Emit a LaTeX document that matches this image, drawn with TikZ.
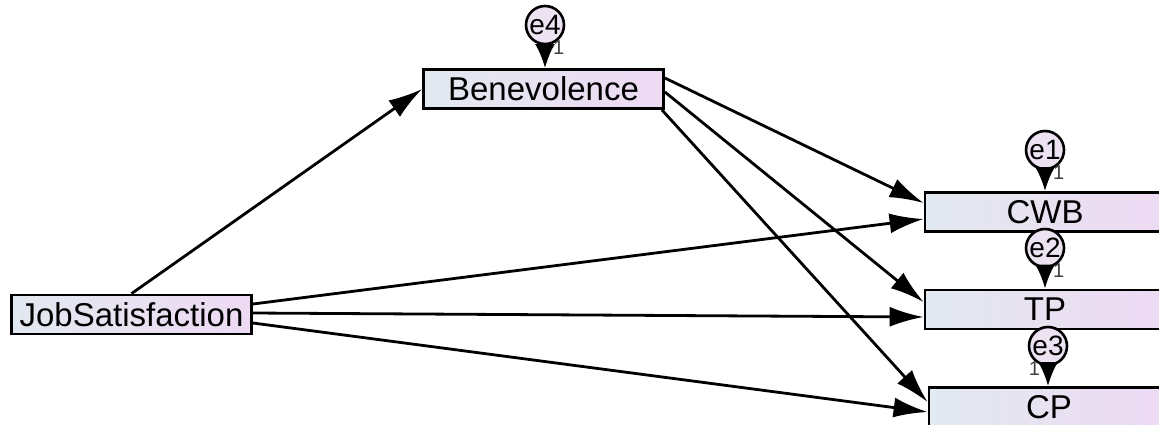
\documentclass[tikz,border=0pt]{standalone}
\usepackage{fontspec}
\setmainfont{Liberation Sans}
\usetikzlibrary{arrows.meta,positioning,calc}
\definecolor{boxleft}{RGB}{226,233,240}
\definecolor{boxright}{RGB}{238,218,243}
\definecolor{errfill}{RGB}{236,226,242}
\tikzset{
    varbox/.style={draw,line width=1.4pt,left color=boxleft,right color=boxright,
        minimum width=120pt,minimum height=19.5pt,inner sep=0pt,
        font=\fontsize{16.5}{19}\selectfont},
    errcirc/.style={draw,circle,line width=1.3pt,fill=errfill,minimum size=19pt,
        inner sep=0pt,font=\fontsize{14}{16}\selectfont},
    regline/.style={line width=1.4pt,-{Latex[length=17pt,width=10pt]}},
    errline/.style={line width=1.4pt,-{Latex[length=12pt,width=10pt]}},
    wt/.style={font=\fontsize{10}{11}\selectfont,text=black!75}
}

\begin{document}
\begin{tikzpicture}[x=0.5pt,y=-0.5pt]

    \useasboundingbox (0,0) rectangle (1159,424);
    \clip (0,0) rectangle (1159,424);

    % Observed variables.
    \node[varbox] (ben) at (543.5,89) {Benevolence};
    \node[varbox] (job) at (131.5,314.5) {JobSatisfaction};
    \node[varbox] (cwb) at (1045,212) {CWB};
    \node[varbox] (tp) at (1045,309.5) {TP};
    \node[varbox] (cp) at (1049,407) {CP};

    % Error terms.
    \node[errcirc] (e4) at (545,25) {e4};
    \node[errcirc] (e1) at (1045,150) {e1};
    \node[errcirc] (e2) at (1045,248) {e2};
    \node[errcirc] (e3) at (1048,346) {e3};

    \foreach \e/\v in {e4/ben,e1/cwb,e2/tp}
        \draw[errline] (\e.south) -- (\e |- \v.north) node[wt,pos=0.1,right=0pt]{1};
    \draw[errline] (e3.south) -- (e3 |- cp.north) node[wt,pos=0.1,left=0pt]{1};

    % Paths from Benevolence.
    \draw[regline] (job.north) -- (ben.west);
    \draw[regline] ([yshift=5.5pt]ben.east) -- ([yshift=4.5pt]cwb.west);
    \draw[regline] ([yshift=-1.5pt]ben.east) -- ([yshift=3.75pt]tp.west);
    \draw[regline] ([xshift=-1.5pt]ben.south east) -- ([yshift=2.5pt]cp.west);

    % Paths from JobSatisfaction.
    \draw[regline] ([yshift=5.25pt]job.east) -- ([yshift=-3.5pt]cwb.west);
    \draw[regline] ([yshift=0.75pt]job.east) -- ([yshift=-3.75pt]tp.west);
    \draw[regline] ([yshift=-4.25pt]job.east) -- ([yshift=-2.5pt]cp.west);

\end{tikzpicture}
\end{document}
